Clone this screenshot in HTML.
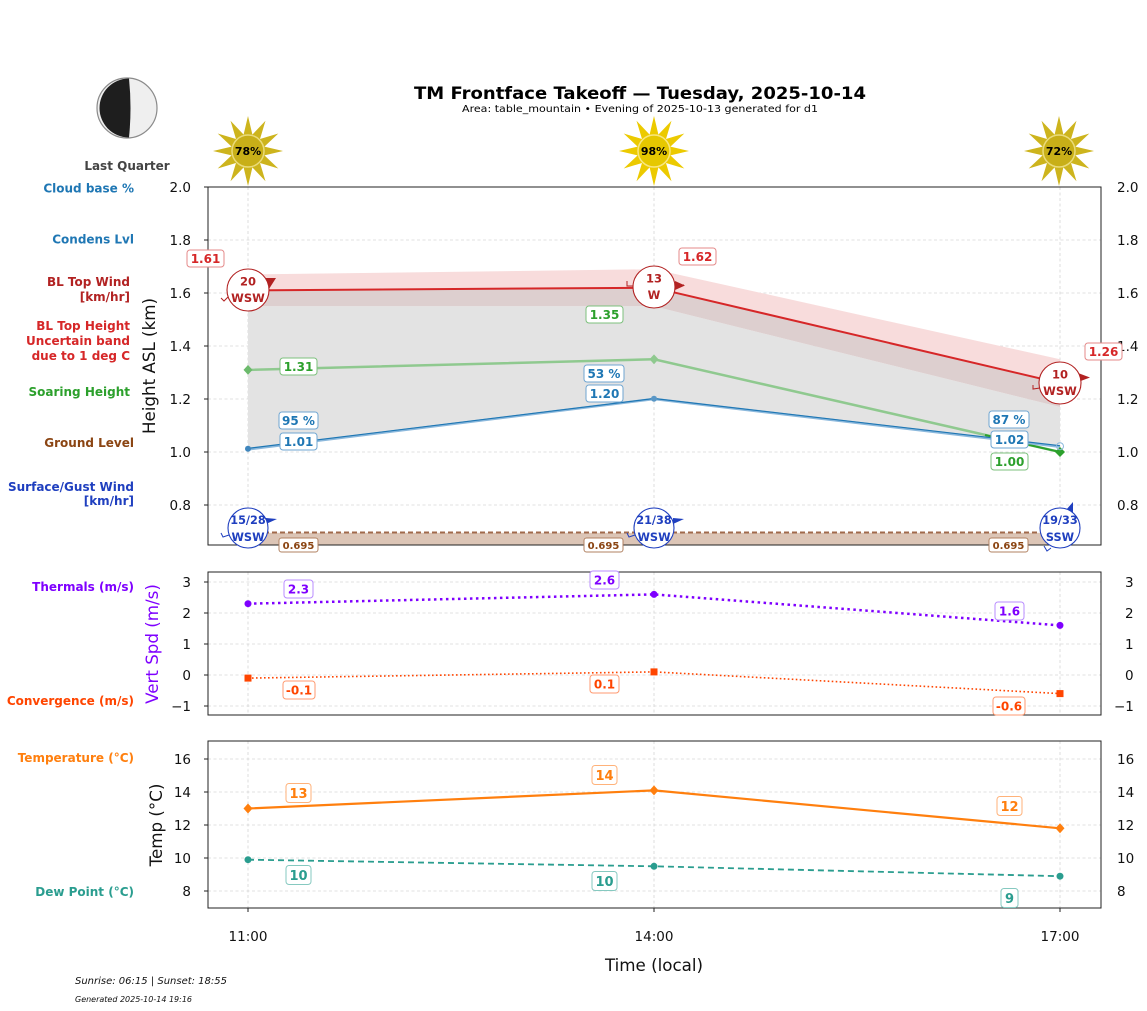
<!DOCTYPE html>
<html><head><meta charset="utf-8"><style>
html,body{margin:0;padding:0;background:#fff;}
svg{display:block;}
text{font-family:"DejaVu Sans","Liberation Sans",sans-serif;}
</style></head><body>
<svg width="1147" height="1011" viewBox="0 0 1147 1011" xmlns="http://www.w3.org/2000/svg">
<defs>
<polygon id="star" points="35,0 16.42,4.4 30.31,17.5 12.02,12.02 17.5,30.31 4.4,16.42 0,35 -4.4,16.42 -17.5,30.31 -12.02,12.02 -30.31,17.5 -16.42,4.4 -35,0 -16.42,-4.4 -30.31,-17.5 -12.02,-12.02 -17.5,-30.31 -4.4,-16.42 0,-35 4.4,-16.42 17.5,-30.31 12.02,-12.02 30.31,-17.5 16.42,-4.4"/>
</defs>
<rect width="1147" height="1011" fill="#fff"/>

<!-- Title -->
<text x="640" y="99" font-size="17" font-weight="bold" text-anchor="middle" textLength="452" lengthAdjust="spacingAndGlyphs">TM Frontface Takeoff — Tuesday, 2025-10-14</text>
<text x="640" y="112" font-size="10" text-anchor="middle" textLength="356" lengthAdjust="spacingAndGlyphs">Area: table_mountain • Evening of 2025-10-13 generated for d1</text>

<!-- Moon -->
<circle cx="127" cy="108" r="30" fill="#efefef" stroke="#8a8a8a" stroke-width="1.2"/>
<path d="M129,78.5 A29.5,29.5 0 0 0 129,137.5 Q132,108 129,78.5 Z" fill="#1e1e1e"/>
<text x="127" y="170" font-size="12" font-weight="bold" fill="#444" text-anchor="middle">Last Quarter</text>

<!-- Suns -->
<g transform="translate(248,151)"><use href="#star" fill="#cdb41d"/><circle r="16" fill="#c8af18" stroke="#eadb7a" stroke-width="1.5"/><text y="4" font-size="11" font-weight="bold" text-anchor="middle">78%</text></g>
<g transform="translate(654,151)"><use href="#star" fill="#ecca00"/><circle r="16" fill="#e6c800" stroke="#f8e680" stroke-width="1.5"/><text y="4" font-size="11" font-weight="bold" text-anchor="middle">98%</text></g>
<g transform="translate(1059,151)"><use href="#star" fill="#cdb41d"/><circle r="16" fill="#c8af18" stroke="#eadb7a" stroke-width="1.5"/><text y="4" font-size="11" font-weight="bold" text-anchor="middle">72%</text></g>

<!-- Left labels -->
<g font-size="12" font-weight="bold" text-anchor="end">
<text x="134" y="192.5" fill="#1f77b4">Cloud base %</text>
<text x="134" y="243.5" fill="#1f77b4">Condens Lvl</text>
<text x="130" y="286" fill="#b22222">BL Top Wind</text>
<text x="130" y="301" fill="#b22222">[km/hr]</text>
<text x="130" y="330" fill="#d62728">BL Top Height</text>
<text x="130" y="345" fill="#d62728">Uncertain band</text>
<text x="130" y="360" fill="#d62728">due to 1 deg C</text>
<text x="130" y="396" fill="#2ca02c">Soaring Height</text>
<text x="134" y="447" fill="#8b4513">Ground Level</text>
<text x="134" y="491" fill="#1f3fbf">Surface/Gust Wind</text>
<text x="134" y="505" fill="#1f3fbf">[km/hr]</text>
<text x="134" y="591" fill="#7f00ff">Thermals (m/s)</text>
<text x="134" y="705" fill="#ff4500">Convergence (m/s)</text>
<text x="134" y="762" fill="#ff7f0e">Temperature (°C)</text>
<text x="134" y="896" fill="#2a9d8f">Dew Point (°C)</text>
</g>

<!-- ============ MAIN CHART ============ -->
<g stroke="#d6d6d6" stroke-width="0.8" stroke-dasharray="3,2.5">
<line x1="208" x2="1101" y1="240" y2="240"/><line x1="208" x2="1101" y1="293" y2="293"/>
<line x1="208" x2="1101" y1="346" y2="346"/><line x1="208" x2="1101" y1="399" y2="399"/>
<line x1="208" x2="1101" y1="452" y2="452"/><line x1="208" x2="1101" y1="505" y2="505"/>
<line x1="248" x2="248" y1="187" y2="545"/><line x1="654" x2="654" y1="187" y2="545"/><line x1="1060" x2="1060" y1="187" y2="545"/>
</g>
<!-- gray fill (band bottom to blue line) -->
<polygon points="248,306.3 654,306.3 1060,407 1060,446.7 654,399 248,449.4" fill="#e3e3e3"/>
<!-- overlap (red line to band bottom) -->
<polygon points="248,290.4 654,287.7 1060,383.1 1060,407 654,306.3 248,306.3" fill="#ddcfcf"/>
<!-- pink (band top to red line) -->
<polygon points="248,274.5 654,269.2 1060,359.3 1060,383.1 654,287.7 248,290.4" fill="#f8dcdc"/>
<!-- ground -->
<rect x="248" y="532.8" width="812" height="12.2" fill="#dcc5b6"/>
<line x1="248" x2="1060" y1="532.5" y2="532.5" stroke="#a0694b" stroke-width="2" stroke-dasharray="5,3"/>
<!-- red BL top line -->
<polyline points="248,290.4 654,287.7 1060,383.1" fill="none" stroke="#d62728" stroke-width="2"/>
<!-- green soaring -->
<polyline points="248,369.9 654,359.3 1060,452" fill="none" stroke="#8fc98f" stroke-width="2.5"/>
<line x1="985" y1="435" x2="1060" y2="452" stroke="#2ca02c" stroke-width="2"/>
<!-- blue lines -->
<polyline points="248,449.4 654,399 1060,446.7" fill="none" stroke="#8bb8dc" stroke-width="2.5"/>
<polyline points="248,448.4 654,398.5 1060,445.7" fill="none" stroke="#1f77b4" stroke-width="1.2"/>
<!-- markers -->
<polygon points="248,365 252.5,369.9 248,374.8 243.5,369.9" fill="#6cba6c"/>
<polygon points="654,354.4 658.5,359.3 654,364.2 649.5,359.3" fill="#8fc98f"/>
<polygon points="1060,447 1065,452 1060,457 1055,452" fill="#2ca02c"/>
<circle cx="248" cy="448.8" r="3" fill="#3f86bd"/>
<circle cx="654" cy="398.8" r="3" fill="#5a97c6"/>
<circle cx="1060" cy="446.2" r="3.5" fill="none" stroke="#8bb8dc" stroke-width="1"/>

<!-- axes box -->
<rect x="208" y="187" width="893" height="358" fill="none" stroke="#222" stroke-width="1"/>
<g stroke="#222" stroke-width="1">
<line x1="204" x2="208" y1="187" y2="187"/><line x1="204" x2="208" y1="240" y2="240"/><line x1="204" x2="208" y1="293" y2="293"/>
<line x1="204" x2="208" y1="346" y2="346"/><line x1="204" x2="208" y1="399" y2="399"/><line x1="204" x2="208" y1="452" y2="452"/><line x1="204" x2="208" y1="505" y2="505"/>
</g>
<g font-size="13.5" text-anchor="end" fill="#111">
<text x="191" y="192">2.0</text><text x="191" y="245">1.8</text><text x="191" y="298">1.6</text>
<text x="191" y="351">1.4</text><text x="191" y="404">1.2</text><text x="191" y="457">1.0</text><text x="191" y="510">0.8</text>
</g>
<g font-size="13.5" fill="#111">
<text x="1117" y="192">2.0</text><text x="1117" y="245">1.8</text><text x="1117" y="298">1.6</text>
<text x="1117" y="351">1.4</text><text x="1117" y="404">1.2</text><text x="1117" y="457">1.0</text><text x="1117" y="510">0.8</text>
</g>
<text transform="translate(155,366) rotate(-90)" font-size="16.7" text-anchor="middle" fill="#111">Height ASL (km)</text>

<!-- value boxes main -->
<g font-size="12" font-weight="bold" text-anchor="middle">
<rect x="187" y="250" width="37" height="17" rx="3" fill="#fff" stroke="#e48a8a"/><text x="205.5" y="263" fill="#d62728">1.61</text>
<rect x="679" y="248" width="37" height="17" rx="3" fill="#fff" stroke="#e48a8a"/><text x="697.5" y="261" fill="#d62728">1.62</text>
<rect x="1085" y="343" width="37" height="17" rx="3" fill="#fff" stroke="#e48a8a"/><text x="1103.5" y="356" fill="#d62728">1.26</text>
<rect x="280" y="358" width="37" height="17" rx="3" fill="#fff" stroke="#7cc07c"/><text x="298.5" y="371" fill="#2ca02c">1.31</text>
<rect x="586" y="306" width="37" height="17" rx="3" fill="#fff" stroke="#7cc07c"/><text x="604.5" y="319" fill="#2ca02c">1.35</text>
<rect x="991" y="453" width="37" height="17" rx="3" fill="#fff" stroke="#7cc07c"/><text x="1009.5" y="466" fill="#2ca02c">1.00</text>
<rect x="279" y="412" width="39" height="17" rx="3" fill="#fff" stroke="#6fa6d2"/><text x="298.5" y="425" fill="#1f77b4">95 %</text>
<rect x="280" y="433" width="37" height="17" rx="3" fill="#fff" stroke="#6fa6d2"/><text x="298.5" y="446" fill="#1f77b4">1.01</text>
<rect x="584" y="365" width="40" height="17" rx="3" fill="#fff" stroke="#6fa6d2"/><text x="604" y="378" fill="#1f77b4">53 %</text>
<rect x="586" y="385" width="37" height="17" rx="3" fill="#fff" stroke="#6fa6d2"/><text x="604.5" y="398" fill="#1f77b4">1.20</text>
<rect x="989" y="411" width="40" height="17" rx="3" fill="#fff" stroke="#6fa6d2"/><text x="1009" y="424" fill="#1f77b4">87 %</text>
<rect x="991" y="431" width="37" height="17" rx="3" fill="#fff" stroke="#6fa6d2"/><text x="1009.5" y="444" fill="#1f77b4">1.02</text>
</g>
<g font-size="10" font-weight="bold" text-anchor="middle" fill="#8b4513">
<rect x="279" y="538" width="39" height="14" rx="2.5" fill="#fff" stroke="#b08060"/><text x="298.5" y="549">0.695</text>
<rect x="584" y="538" width="39" height="14" rx="2.5" fill="#fff" stroke="#b08060"/><text x="603.5" y="549">0.695</text>
<rect x="989" y="538" width="39" height="14" rx="2.5" fill="#fff" stroke="#b08060"/><text x="1008.5" y="549">0.695</text>
</g>

<!-- BL top wind circles -->
<g stroke="#b22222" stroke-width="1" fill="none">
<polyline points="221,298 224,301 229,296 232,297"/>
<polyline points="627,281 627,286 634,286"/>
<line x1="675" y1="285" x2="684" y2="285"/>
<polyline points="1033,385 1033,389 1040,388"/>
</g>
<g fill="#b22222">
<polygon points="263,278 276,278 269,289"/>
<polygon points="675,281 675,290 685,285.5"/>
<polygon points="1078,373 1078,382 1090,377.5"/>
</g>
<g font-weight="bold" text-anchor="middle" fill="#b22222" font-size="11.5">
<circle cx="248" cy="290" r="21" fill="#fff" stroke="#b22222" stroke-width="1.1"/>
<text x="248" y="285.5">20</text><text x="248" y="302">WSW</text>
<circle cx="654" cy="287" r="21" fill="#fff" stroke="#b22222" stroke-width="1.1"/>
<text x="654" y="282.5">13</text><text x="654" y="299">W</text>
<circle cx="1060" cy="383" r="21" fill="#fff" stroke="#b22222" stroke-width="1.1"/>
<text x="1060" y="378.5">10</text><text x="1060" y="395">WSW</text>
</g>

<!-- surface wind circles -->
<g stroke="#1f3fbf" stroke-width="1" fill="none">
<polyline points="221,533 223,537 229,535"/>
<polyline points="627,533 629,537 635,535"/>
<polyline points="1044,546 1047,551 1051,548"/>
</g>
<g fill="#1f3fbf">
<polygon points="266,518 266,524 277,519"/>
<polygon points="673,518 673,524 684,519"/>
<polygon points="1066,510 1073,512 1073,502"/>
</g>
<g font-weight="bold" text-anchor="middle" fill="#1f3fbf" font-size="11.3">
<circle cx="248" cy="528" r="20" fill="#fff" stroke="#1f3fbf" stroke-width="1.1"/>
<text x="248" y="524">15/28</text><text x="248" y="541">WSW</text>
<circle cx="654" cy="528" r="20" fill="#fff" stroke="#1f3fbf" stroke-width="1.1"/>
<text x="654" y="524">21/38</text><text x="654" y="541">WSW</text>
<circle cx="1060" cy="528" r="20" fill="#fff" stroke="#1f3fbf" stroke-width="1.1"/>
<text x="1060" y="524">19/33</text><text x="1060" y="541">SSW</text>
</g>

<!-- ============ THERMALS CHART ============ -->
<g stroke="#d6d6d6" stroke-width="0.8" stroke-dasharray="3,2.5">
<line x1="208" x2="1101" y1="582" y2="582"/><line x1="208" x2="1101" y1="613" y2="613"/>
<line x1="208" x2="1101" y1="644" y2="644"/><line x1="208" x2="1101" y1="675" y2="675"/><line x1="208" x2="1101" y1="706" y2="706"/>
<line x1="248" x2="248" y1="572" y2="715"/><line x1="654" x2="654" y1="572" y2="715"/><line x1="1060" x2="1060" y1="572" y2="715"/>
</g>
<polyline points="248,603.7 654,594.4 1060,625.4" fill="none" stroke="#7f00ff" stroke-width="2.5" stroke-dasharray="2.5,3.5"/>
<circle cx="248" cy="603.7" r="3.5" fill="#7f00ff"/><circle cx="654" cy="594.4" r="3.5" fill="#7f00ff"/><circle cx="1060" cy="625.4" r="3.5" fill="#7f00ff"/>
<polyline points="248,678.1 654,671.9 1060,693.6" fill="none" stroke="#ff4500" stroke-width="1.6" stroke-dasharray="1.6,2.4"/>
<rect x="244.5" y="674.6" width="7" height="7" fill="#ff4500"/><rect x="650.5" y="668.4" width="7" height="7" fill="#ff4500"/><rect x="1056.5" y="690.1" width="7" height="7" fill="#ff4500"/>
<rect x="208" y="572" width="893" height="143" fill="none" stroke="#222" stroke-width="1"/>
<g stroke="#222"><line x1="204" x2="208" y1="582" y2="582"/><line x1="204" x2="208" y1="613" y2="613"/><line x1="204" x2="208" y1="644" y2="644"/><line x1="204" x2="208" y1="675" y2="675"/><line x1="204" x2="208" y1="706" y2="706"/></g>
<g font-size="13.5" text-anchor="end" fill="#111">
<text x="191" y="587">3</text><text x="191" y="618">2</text><text x="191" y="649">1</text><text x="191" y="680">0</text><text x="191" y="711">−1</text>
</g>
<g font-size="13.5" fill="#111">
<text x="1125" y="587">3</text><text x="1125" y="618">2</text><text x="1125" y="649">1</text><text x="1125" y="680">0</text><text x="1114" y="711">−1</text>
</g>
<text transform="translate(158,644) rotate(-90)" font-size="16.7" text-anchor="middle" fill="#7f00ff">Vert Spd (m/s)</text>
<g font-size="12" font-weight="bold" text-anchor="middle">
<rect x="284" y="580" width="29" height="18" rx="3" fill="#fff" stroke="#b98cff"/><text x="298.5" y="593.5" fill="#7f00ff">2.3</text>
<rect x="590" y="571" width="29" height="18" rx="3" fill="#fff" stroke="#b98cff"/><text x="604.5" y="584.5" fill="#7f00ff">2.6</text>
<rect x="995" y="602" width="29" height="18" rx="3" fill="#fff" stroke="#b98cff"/><text x="1009.5" y="615.5" fill="#7f00ff">1.6</text>
<rect x="283" y="681" width="32" height="18" rx="3" fill="#fff" stroke="#ff9a70"/><text x="299" y="694.5" fill="#ff4500">-0.1</text>
<rect x="590" y="675" width="29" height="18" rx="3" fill="#fff" stroke="#ff9a70"/><text x="604.5" y="688.5" fill="#ff4500">0.1</text>
<rect x="993" y="697" width="32" height="18" rx="3" fill="#fff" stroke="#ff9a70"/><text x="1009" y="710.5" fill="#ff4500">-0.6</text>
</g>

<!-- ============ TEMP CHART ============ -->
<g stroke="#d6d6d6" stroke-width="0.8" stroke-dasharray="3,2.5">
<line x1="208" x2="1101" y1="759" y2="759"/><line x1="208" x2="1101" y1="792" y2="792"/>
<line x1="208" x2="1101" y1="825" y2="825"/><line x1="208" x2="1101" y1="858" y2="858"/><line x1="208" x2="1101" y1="891" y2="891"/>
<line x1="248" x2="248" y1="741" y2="908"/><line x1="654" x2="654" y1="741" y2="908"/><line x1="1060" x2="1060" y1="741" y2="908"/>
</g>
<polyline points="248,808.5 654,790.4 1060,828.3" fill="none" stroke="#ff7f0e" stroke-width="2.2"/>
<polygon points="248,803.5 252.5,808.5 248,813.5 243.5,808.5" fill="#ff7f0e"/>
<polygon points="654,785.4 658.5,790.4 654,795.4 649.5,790.4" fill="#ff7f0e"/>
<polygon points="1060,823.3 1064.5,828.3 1060,833.3 1055.5,828.3" fill="#ff7f0e"/>
<polyline points="248,859.7 654,866.3 1060,876.2" fill="none" stroke="#2a9d8f" stroke-width="1.8" stroke-dasharray="6,4"/>
<circle cx="248" cy="859.7" r="3.5" fill="#2a9d8f"/><circle cx="654" cy="866.3" r="3.5" fill="#2a9d8f"/><circle cx="1060" cy="876.2" r="3.5" fill="#2a9d8f"/>
<rect x="208" y="741" width="893" height="167" fill="none" stroke="#222" stroke-width="1"/>
<g stroke="#222"><line x1="204" x2="208" y1="759" y2="759"/><line x1="204" x2="208" y1="792" y2="792"/><line x1="204" x2="208" y1="825" y2="825"/><line x1="204" x2="208" y1="858" y2="858"/><line x1="204" x2="208" y1="891" y2="891"/>
<line x1="248" x2="248" y1="908" y2="912"/><line x1="654" x2="654" y1="908" y2="912"/><line x1="1060" x2="1060" y1="908" y2="912"/></g>
<g font-size="13.5" text-anchor="end" fill="#111">
<text x="191" y="764">16</text><text x="191" y="797">14</text><text x="191" y="830">12</text><text x="191" y="863">10</text><text x="191" y="896">8</text>
</g>
<g font-size="13.5" fill="#111">
<text x="1117" y="764">16</text><text x="1117" y="797">14</text><text x="1117" y="830">12</text><text x="1117" y="863">10</text><text x="1117" y="896">8</text>
</g>
<text transform="translate(162,825) rotate(-90)" font-size="16.7" text-anchor="middle" fill="#111">Temp (°C)</text>
<g font-size="13" font-weight="bold" text-anchor="middle">
<rect x="286" y="783.5" width="25" height="19" rx="3" fill="#fff" stroke="#ffb27a"/><text x="298.5" y="798" fill="#ff7f0e">13</text>
<rect x="592" y="765.5" width="25" height="19" rx="3" fill="#fff" stroke="#ffb27a"/><text x="604.5" y="780" fill="#ff7f0e">14</text>
<rect x="997" y="796.5" width="25" height="19" rx="3" fill="#fff" stroke="#ffb27a"/><text x="1009.5" y="811" fill="#ff7f0e">12</text>
<rect x="286" y="865.5" width="25" height="19" rx="3" fill="#fff" stroke="#86c9c0"/><text x="298.5" y="880" fill="#2a9d8f">10</text>
<rect x="592" y="871.5" width="25" height="19" rx="3" fill="#fff" stroke="#86c9c0"/><text x="604.5" y="886" fill="#2a9d8f">10</text>
<rect x="1001" y="888.5" width="17" height="19" rx="3" fill="#fff" stroke="#86c9c0"/><text x="1009.5" y="903" fill="#2a9d8f">9</text>
</g>
<g font-size="13.5" text-anchor="middle" fill="#111">
<text x="248" y="941">11:00</text><text x="654" y="941">14:00</text><text x="1060" y="941">17:00</text>
</g>
<text x="654" y="971" font-size="16.7" text-anchor="middle" fill="#111">Time (local)</text>

<!-- footer -->
<text x="75" y="984" font-size="10" font-style="italic" fill="#111" textLength="152" lengthAdjust="spacingAndGlyphs">Sunrise: 06:15 | Sunset: 18:55</text>
<text x="75" y="1002" font-size="8" font-style="italic" fill="#111" textLength="117" lengthAdjust="spacingAndGlyphs">Generated 2025-10-14 19:16</text>
</svg>
</body></html>
